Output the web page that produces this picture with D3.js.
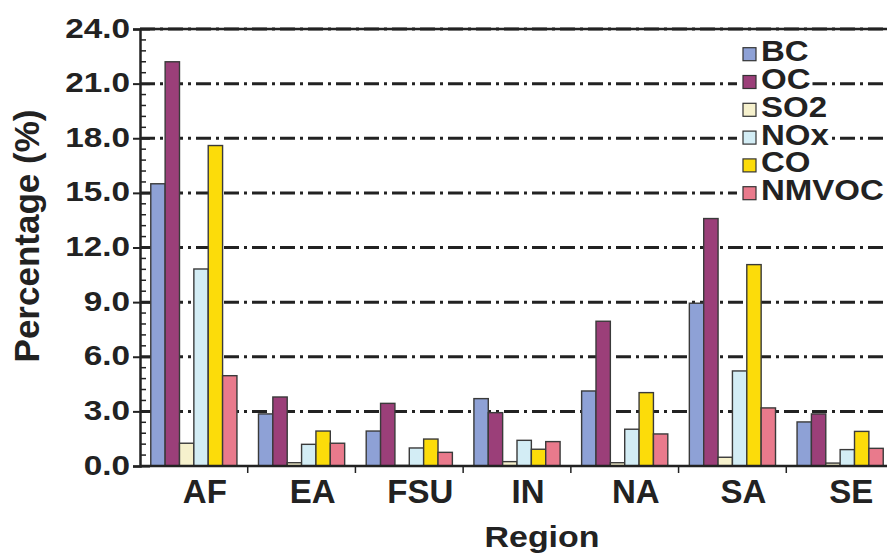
<!DOCTYPE html>
<html>
<head>
<meta charset="utf-8">
<script src="https://cdn.jsdelivr.net/npm/d3@7"></script>
<style>
  html, body { margin: 0; padding: 0; background: #fff; }
  svg text { font-family: "Liberation Sans", Arial, sans-serif; font-weight: bold; fill: #222; }
</style>
</head>
<body>
<svg id="chart"></svg>
<script>
// Percentage by region for each emitted species

const W = 887, H = 556;
const M = { top: 29, left: 140, bottom: 90 };

const regions = ['AF', 'EA', 'FSU', 'IN', 'NA', 'SA', 'SE'];
const species = ['BC', 'OC', 'SO2', 'NOx', 'CO', 'NMVOC'];
const colors = ['#8ea1d6', '#9b3f79', '#f6f1cd', '#d3edf5', '#fcdc0a', '#e97a8c'];

const bcVals    = [15.5, 2.86, 1.92, 3.70, 4.12, 8.94, 2.42];
const ocVals    = [22.2, 3.79, 3.44, 2.93, 7.95, 13.59, 2.86];
const so2Vals   = [1.25, 0.18, 0.03, 0.24, 0.18, 0.48, 0.16];
const noxVals   = [10.82, 1.19, 0.99, 1.41, 2.02, 5.22, 0.90];
const coVals    = [17.6, 1.92, 1.48, 0.92, 4.03, 11.06, 1.90];
const nmvocVals = [4.96, 1.25, 0.75, 1.34, 1.76, 3.19, 0.97];

const yTicks = [0, 3, 6, 9, 12, 15, 18, 21, 24];

const seriesVals = [bcVals, ocVals, so2Vals, noxVals, coVals, nmvocVals];
const rows = [];
regions.forEach((r, i) => {
  species.forEach((s, j) => rows.push({ region: r, species: s, value: seriesVals[j][i], color: colors[j] }));
});

const svg = d3.select('#chart').attr('width', W).attr('height', H);

const x = d3.scaleBand().domain(regions).range([M.left, 894]).padding(0);
const xi = d3.scaleBand().domain(species).range([0, x.bandwidth()]).paddingInner(0).paddingOuter(0.75);
const y = d3.scaleLinear().domain([0, 24]).range([H - M.bottom, M.top]);

// gridlines (dash-dot)
svg.append('g').selectAll('line')
  .data(yTicks.filter(t => t > 0))
  .join('line')
  .attr('x1', M.left).attr('x2', W)
  .attr('y1', d => y(d)).attr('y2', d => y(d))
  .attr('stroke', '#222').attr('stroke-width', 3)
  .attr('stroke-dasharray', '15,5,3,5');

// top frame
svg.append('line')
  .attr('x1', M.left).attr('x2', W)
  .attr('y1', y(24)).attr('y2', y(24))
  .attr('stroke', '#222').attr('stroke-width', 2.5);

// legend (each item sits on a white box that hides the gridlines)
const leg = svg.append('g');
species.forEach((s, i) => {
  const top = 47.7 + i * 27.8;
  const g = leg.append('g');
  const bg = g.append('rect').attr('fill', '#fff');
  g.append('rect')
    .attr('x', 743).attr('y', top).attr('width', 13).attr('height', 13)
    .attr('fill', colors[i]).attr('stroke', '#333').attr('stroke-width', 1.2);
  const t = g.append('text')
    .attr('transform', `translate(761,${top + 13.5}) scale(1.1,1)`)
    .style('font-size', '30px')
    .text(s);
  const bb = t.node().getBBox();
  bg.attr('x', 737).attr('y', top - 7).attr('height', 27)
    .attr('width', 761 + bb.width * 1.1 - 737 + 2);
});

// bars
svg.append('g').selectAll('rect')
  .data(rows)
  .join('rect')
  .attr('x', d => x(d.region) + xi(d.species))
  .attr('y', d => y(d.value))
  .attr('width', xi.bandwidth())
  .attr('height', d => y(0) - y(d.value))
  .attr('fill', d => d.color)
  .attr('stroke', '#3a3a3a').attr('stroke-width', 1.4);

// y axis with minor ticks
const minor = d3.range(0, 24.01, 0.6).filter(v => Math.abs(v / 3 - Math.round(v / 3)) > 1e-6);
svg.append('g').selectAll('line')
  .data(minor)
  .join('line')
  .attr('x1', M.left).attr('x2', M.left + 6)
  .attr('y1', d => y(d)).attr('y2', d => y(d))
  .attr('stroke', '#222').attr('stroke-width', 1.5);

const yAxisG = svg.append('g')
  .attr('transform', `translate(${M.left},0)`)
  .call(d3.axisLeft(y).tickValues(yTicks).tickFormat(d3.format('.1f')).tickSize(7).tickPadding(3));
yAxisG.select('.domain').attr('stroke', '#222').attr('stroke-width', 2.5);
yAxisG.selectAll('.tick line').attr('stroke', '#222').attr('stroke-width', 2).attr('x2', -7);
yAxisG.selectAll('.tick').append('line')
  .attr('x1', 0).attr('x2', 10).attr('stroke', '#222').attr('stroke-width', 2);
yAxisG.selectAll('.tick text')
  .attr('x', null).attr('dy', null)
  .attr('transform', 'translate(-10,8) scale(1.19,1)')
  .attr('fill', '#222')
  .style('font-size', '28px');

// x axis
svg.append('line')
  .attr('x1', M.left).attr('x2', W)
  .attr('y1', y(0)).attr('y2', y(0))
  .attr('stroke', '#222').attr('stroke-width', 2.5);
svg.append('g').selectAll('line')
  .data(regions.slice(1))
  .join('line')
  .attr('x1', d => x(d)).attr('x2', d => x(d))
  .attr('y1', y(0)).attr('y2', y(0) + 7)
  .attr('stroke', '#222').attr('stroke-width', 1.5);

svg.append('g').selectAll('text')
  .data(regions)
  .join('text')
  .attr('x', d => x(d) + x.bandwidth() / 2 + 11)
  .attr('y', 503)
  .attr('text-anchor', 'middle')
  .style('font-size', '33px')
  .text(d => d);

// axis titles
svg.append('text')
  .attr('transform', 'translate(542,547) scale(1.17,1)')
  .attr('text-anchor', 'middle')
  .style('font-size', '29px')
  .text('Region');

svg.append('text')
  .attr('transform', 'translate(39,236) rotate(-90)')
  .attr('text-anchor', 'middle')
  .style('font-size', '35px')
  .text('Percentage (%)');
</script>
</body>
</html>
